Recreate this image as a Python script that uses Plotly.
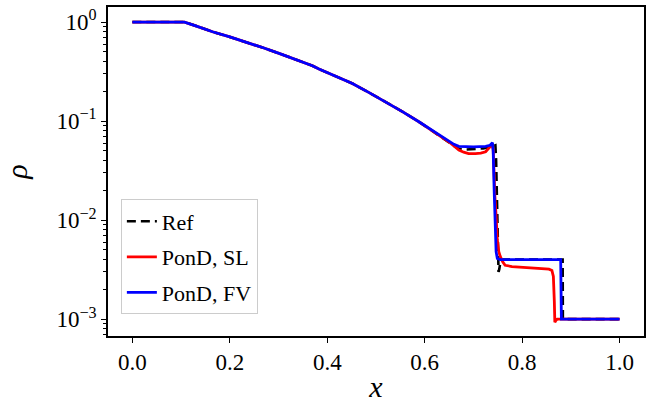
import plotly.graph_objects as go

# ---- data ----
rare_x = [0.0, 0.107, 0.13, 0.1645, 0.2, 0.233, 0.27, 0.301, 0.335, 0.3695, 0.383, 0.404,
          0.4515, 0.485, 0.52, 0.555, 0.588, 0.62, 0.64]
rare_rho = [1.0, 1.0, 0.916, 0.798, 0.708, 0.632, 0.547, 0.483, 0.419, 0.362, 0.335, 0.302,
            0.240, 0.195, 0.157, 0.124, 0.0984, 0.0776, 0.0668]

ref_x = rare_x + [0.65, 0.66, 0.67, 0.68, 0.7, 0.72, 0.735, 0.745,
                  0.7465, 0.748, 0.749, 0.7505, 0.7515, 0.753, 0.755, 0.758, 0.883, 0.8835, 1.0]
ref_rho = rare_rho + [0.061, 0.056, 0.0525, 0.0515, 0.052, 0.053, 0.055, 0.057,
                      0.04, 0.015, 0.006, 0.0035, 0.003, 0.0032, 0.0037, 0.004, 0.004, 0.001, 0.001]

sl_x = rare_x + [0.65, 0.66, 0.67, 0.68, 0.69, 0.704, 0.715, 0.725,
                 0.733, 0.738, 0.7405, 0.742, 0.744, 0.7465, 0.749, 0.752, 0.755, 0.76, 0.765, 0.779,
                 0.82, 0.855, 0.861, 0.864, 0.866, 0.867, 0.869, 0.872, 1.0]
sl_rho = rare_rho + [0.0615, 0.056, 0.051, 0.0485, 0.047, 0.047, 0.0475, 0.049,
                     0.054, 0.058, 0.052, 0.03, 0.0173, 0.011, 0.0063, 0.0048, 0.0043, 0.0038, 0.0035, 0.0034,
                     0.0033, 0.0032, 0.0031, 0.0027, 0.0015, 0.00093, 0.00097, 0.001, 0.001]

fv_x = rare_x + [0.65, 0.66, 0.67, 0.7, 0.725, 0.734, 0.739, 0.7405,
                 0.7425, 0.745, 0.7465, 0.749, 0.755, 0.879, 0.8805, 1.0]
fv_rho = rare_rho + [0.0624, 0.0582, 0.0556, 0.055, 0.0555, 0.057, 0.0605, 0.05,
                     0.02, 0.008, 0.0048, 0.0041, 0.004, 0.004, 0.001, 0.001]

x_ticks = [0.0, 0.2, 0.4, 0.6, 0.8, 1.0]
x_tick_text = ["0.0", "0.2", "0.4", "0.6", "0.8", "1.0"]
y_ticks = [1e-3, 1e-2, 1e-1, 1e0]
y_tick_text = ["10<sup>\u22123</sup>", "10<sup>\u22122</sup>", "10<sup>\u22121</sup>", "10<sup>0</sup>"]
y_minor = [m * 10.0 ** e for e in range(-4, 1) for m in range(2, 10)]

FONT = "Liberation Serif"

fig = go.Figure()
fig.add_trace(go.Scatter(x=ref_x, y=ref_rho, mode="lines", name="Ref", legendgroup="a",
                         line=dict(color="black", width=2.6, dash="9px,5px")))
fig.add_trace(go.Scatter(x=sl_x, y=sl_rho, mode="lines", name="PonD, SL", legendgroup="b",
                         line=dict(color="#ff0000", width=2.8)))
fig.add_trace(go.Scatter(x=fv_x, y=fv_rho, mode="lines", name="PonD, FV", legendgroup="c",
                         line=dict(color="#0000ff", width=2.8)))

fig.update_layout(
    width=653, height=406,
    margin=dict(l=108, r=9, t=7, b=70),
    paper_bgcolor="white", plot_bgcolor="white",
    font=dict(family=FONT, size=23, color="black"),
    showlegend=True,
    legend=dict(x=0.024, y=0.415, xanchor="left", yanchor="top",
                bgcolor="white", bordercolor="#cccccc", borderwidth=1,
                font=dict(family=FONT, size=22), tracegroupgap=4,
                traceorder="grouped"),
)
fig.update_xaxes(
    range=[-0.05, 1.05], tickvals=x_ticks, ticktext=x_tick_text, automargin=False,
    showline=True, linecolor="black", linewidth=1.5, mirror=True,
    ticks="outside", ticklen=5, tickwidth=1.3, tickcolor="black",
    showgrid=False, zeroline=False,
    title=dict(text="<i>x</i>", font=dict(family=FONT, size=30), standoff=2),
)
fig.update_yaxes(
    type="log", range=[-3.17, 0.152], tickvals=y_ticks, ticktext=y_tick_text, automargin=False,
    showline=True, linecolor="black", linewidth=1.5, mirror=True,
    ticks="outside", ticklen=5, tickwidth=1.3, tickcolor="black",
    minor=dict(tickvals=y_minor, ticks="outside", ticklen=3, tickwidth=1, tickcolor="black",
               showgrid=False),
    showgrid=False, zeroline=False,
    title=dict(text="<i>\u03c1</i>", font=dict(family=FONT, size=30), standoff=22),
)

fig.write_html("out.html", config={"displayModeBar": False},
               post_script="document.body.style.margin='0';document.body.style.padding='0';")
